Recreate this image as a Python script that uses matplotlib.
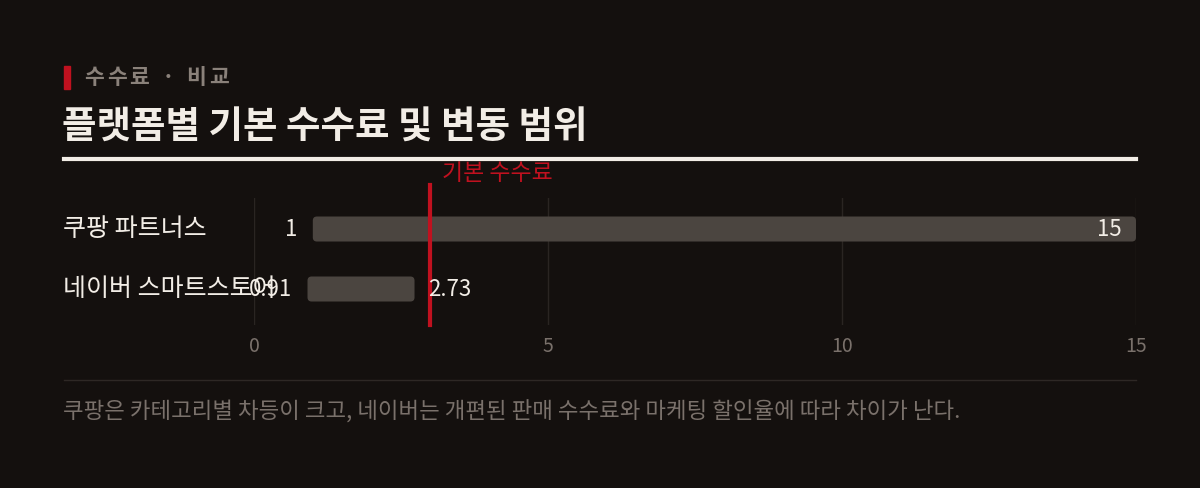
import matplotlib
matplotlib.use("Agg")
import matplotlib.pyplot as plt
from matplotlib.patches import FancyBboxPatch
from matplotlib.lines import Line2D
from matplotlib.transforms import blended_transform_factory

plt.rcParams['font.family'] = ['Noto Sans CJK KR', 'DejaVu Sans']

# data
platforms = ['쿠팡 파트너스', '네이버 스마트스토어']
fee_min = [1, 0.91]
fee_max = [15, 2.73]
base_fee = 3
x_ticks = [0, 5, 10, 15]

kicker = '수수료 · 비교'
title = '플랫폼별 기본 수수료 및 변동 범위'
base_label = '기본 수수료'
note = '쿠팡은 카테고리별 차등이 크고, 네이버는 개편된 판매 수수료와 마케팅 할인율에 따라 차이가 난다.'

# colours
BG = '#14100e'
BAR = '#4b4540'
RED = '#c0111f'
TEXT = '#f2ede6'
MUTED = '#7a716b'
GRID = '#2a2522'

W, H = 1200, 488
fig = plt.figure(figsize=(W / 100, H / 100), dpi=100, facecolor=BG)


def fx(px):
    return px / W


def fy(py):
    return 1 - py / H


# header (kicker has letter spacing: place char by char)
fig.add_artist(plt.Rectangle((fx(64), fy(89)), fx(6), 23 / H, color=RED,
                             transform=fig.transFigure))
renderer = fig.canvas.get_renderer()
kx = 84
for ch in kicker:
    if ch == ' ':
        kx += 9
        continue
    t = fig.text(fx(kx), fy(77), ch, color='#8a817a', fontsize=15.5,
                 fontweight='bold', va='center', ha='left')
    kx += t.get_window_extent(renderer).width + 3
fig.text(fx(62), fy(127), title, color=TEXT, fontsize=27, fontweight='bold',
         va='center', ha='left')
fig.add_artist(Line2D([fx(64), fx(1136)], [fy(159), fy(159)], color=TEXT, lw=3,
                      transform=fig.transFigure))

# chart
ax = fig.add_axes([fx(254), fy(325), fx(1136) - fx(254), 127 / H])
ax.set_facecolor(BG)
ax.set_xlim(0, 15)
ax.set_ylim(1.6, -0.517)
for s in ax.spines.values():
    s.set_visible(False)
ax.set_yticks([])
ax.set_xticks(x_ticks)
ax.set_xticklabels([str(t) for t in x_ticks])
ax.tick_params(axis='x', length=0, pad=8, labelsize=14, labelcolor=MUTED)
ax.grid(axis='x', color=GRID, lw=1)
ax.set_axisbelow(True)

bar_h = 0.417
xmax = ax.get_xlim()[1]
label_tf = blended_transform_factory(fig.transFigure, ax.transData)
for i, (name, lo, hi) in enumerate(zip(platforms, fee_min, fee_max)):
    ax.add_patch(FancyBboxPatch((lo, i - bar_h / 2), hi - lo, bar_h,
                                boxstyle='round,pad=0,rounding_size=0.07',
                                mutation_aspect=0.98, fc=BAR, ec='none', zorder=2))
    ax.text(fx(63), i, name, transform=label_tf, color=TEXT, fontsize=18,
            fontweight='light', va='center', ha='left')
    ax.annotate(f'{lo:g}', (lo, i), xytext=(-11, 0), textcoords='offset points',
                color=TEXT, fontsize=16, fontweight='medium', va='center', ha='right',
                zorder=4)
    if hi >= xmax:
        ax.annotate(f'{hi:g}', (hi, i), xytext=(-10, 0), textcoords='offset points',
                    color=TEXT, fontsize=16, fontweight='medium', va='center',
                    ha='right', zorder=4)
    else:
        ax.annotate(f'{hi:g}', (hi, i), xytext=(10, 0), textcoords='offset points',
                    color=TEXT, fontsize=16, fontweight='medium', va='center',
                    ha='left', zorder=4)

# base fee marker
ax.axvline(base_fee, ymin=0, ymax=(325 - 185) / 127, color=RED, lw=3, clip_on=False,
           zorder=3)
ax.annotate(base_label, (base_fee, 0), xycoords=('data', 'axes fraction'),
            xytext=(8, (325 - 173) * 0.72), textcoords='offset points',
            color=RED, fontsize=16.5, fontweight='medium', va='center', ha='left')

# footer
fig.add_artist(Line2D([fx(64), fx(1136)], [fy(380), fy(380)], color='#2e2825', lw=1,
                      transform=fig.transFigure))
fig.text(fx(63), fy(412), note, color=MUTED, fontsize=16.1, va='center', ha='left')

fig.savefig('out.png', dpi=100, facecolor=BG)
